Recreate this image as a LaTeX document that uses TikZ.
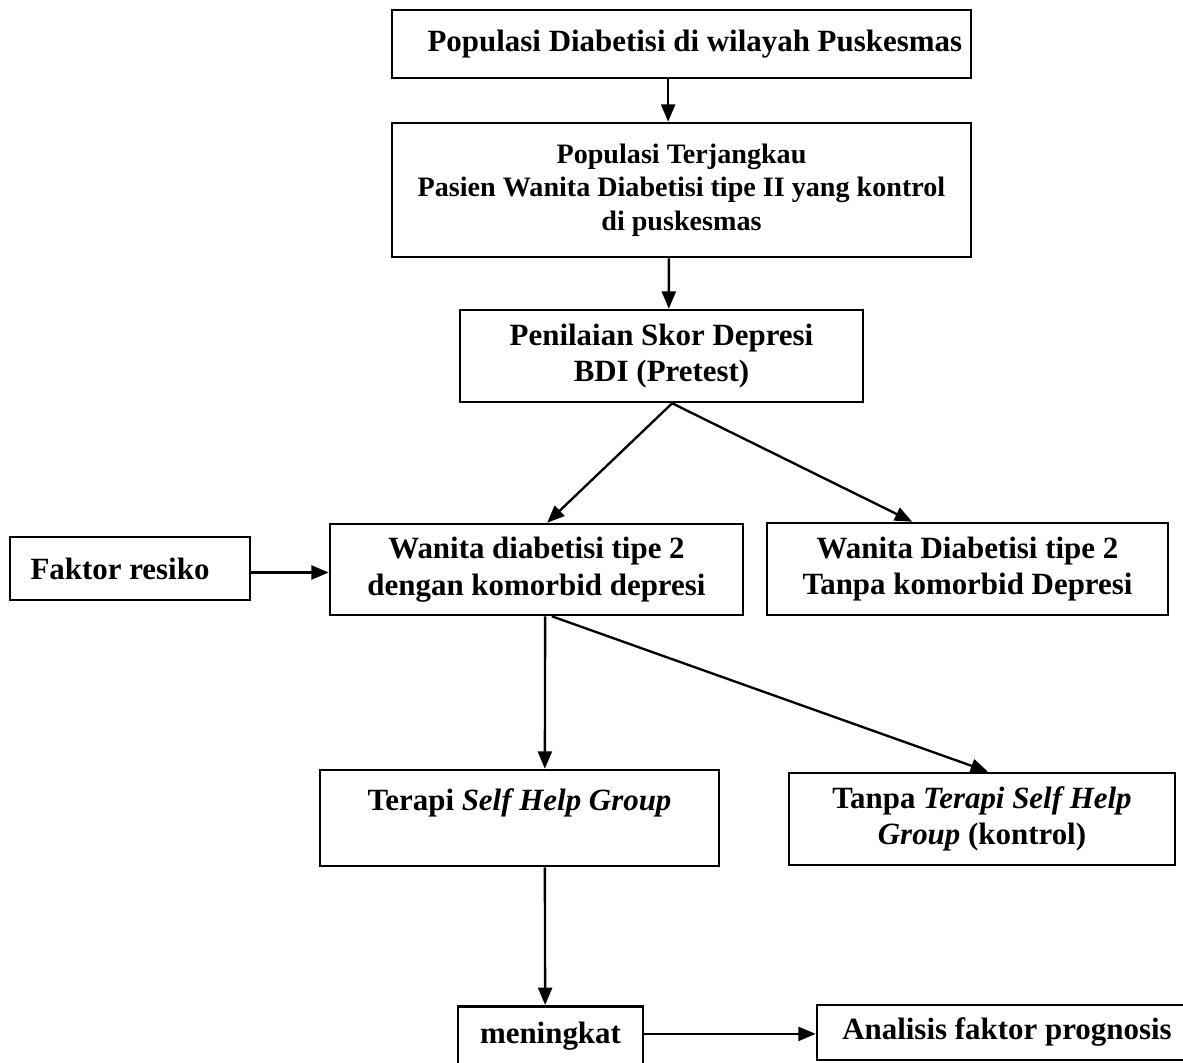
\documentclass[tikz,border=0pt]{standalone}
\usepackage{fontspec}
\setmainfont{Liberation Serif}
\usetikzlibrary{arrows.meta, positioning}

\begin{document}
\begin{tikzpicture}[x=0.015cm, y=-0.015cm,
    box/.style={draw, line width=1.1pt, inner sep=0pt, align=center,
      font=\fontsize{13.2}{15.7}\selectfont\bfseries},
    arr/.style={line width=1pt, -{Triangle[length=2.6mm, width=2.1mm]}}]
  \useasboundingbox (0,0) rectangle (1183,1063);
  \clip (0,0) rectangle (1183,1063);
  % upper chain
  \node[box, minimum width=8.685cm, minimum height=1.02cm] (pop) at (681.5,44)
      {\hspace*{0.4cm}Populasi Diabetisi di wilayah Puskesmas};
  \node[box, minimum width=8.685cm, minimum height=2.01cm,
      font=\fontsize{12}{14.2}\selectfont\bfseries] (terjangkau) at (681.5,190)
      {Populasi Terjangkau\\Pasien Wanita Diabetisi tipe II yang kontrol\\di puskesmas};
  \node[box, minimum width=6.045cm, minimum height=1.38cm] (pretest) at (661.5,356)
      {Penilaian Skor Depresi\\BDI (Pretest)};
  % groups
  \node[box, minimum width=3.6cm, minimum height=0.945cm] (faktor) at (130,568.5)
      {Faktor resiko\hspace*{0.3cm}};
  \node[box, minimum width=6.195cm, minimum height=1.365cm] (dengan) at (536.5,569.5)
      {Wanita diabetisi tipe 2\\dengan komorbid depresi};
  \node[box, minimum width=6.015cm, minimum height=1.38cm] (tanpa) at (967.5,569)
      {Wanita Diabetisi tipe 2\\Tanpa komorbid Depresi};
  \node[box, minimum width=5.985cm, minimum height=1.44cm] (terapi) at (519.5,818)
      {Terapi \textit{Self Help Group}\\\mbox{}};
  \node[box, minimum width=5.79cm, minimum height=1.38cm] (kontrol) at (982,819)
      {Tanpa \textit{Terapi Self Help}\\\textit{Group} (kontrol)};
  % bottom row
  \node[box, minimum width=2.775cm, text height=0.555cm, text depth=0.6cm,
      anchor=north] (meningkat) at (550.5,1005) {meningkat};
  \node[box, minimum width=5.7cm, minimum height=0.825cm] (analisis) at (1007,1032.5)
      {Analisis faktor prognosis};
  % arrows
  \draw[arr] ([xshift=-0.2cm]pop.south) -- ([xshift=-0.2cm]terjangkau.north);
  \draw[arr] ([xshift=-0.19cm]terjangkau.south) -- ([xshift=0.11cm]pretest.north);
  \draw[arr] ([xshift=0.16cm]pretest.south) -- ([xshift=0.16cm]dengan.north);
  \draw[arr] ([xshift=0.16cm]pretest.south) -- ([xshift=-0.83cm]tanpa.north);
  \draw[arr] ([yshift=-0.06cm]faktor.east) -- ([yshift=-0.06cm]faktor.east -| dengan.west);
  \draw[arr] ([xshift=0.13cm]dengan.south) -- ([xshift=0.38cm]terapi.north);
  \draw[arr] ([xshift=0.23cm]dengan.south) -- ([xshift=0.09cm]kontrol.north);
  \draw[arr] ([xshift=0.38cm]terapi.south) -- ([xshift=-0.08cm]meningkat.north);
  \draw[arr] ([yshift=0.06cm]meningkat.mid east) -- ([yshift=0.06cm]meningkat.mid east -| analisis.west);
\end{tikzpicture}
\end{document}
